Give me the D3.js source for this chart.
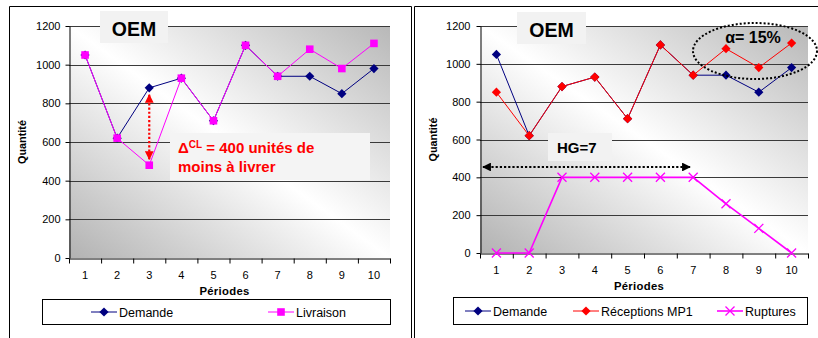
<!DOCTYPE html>
<html><head><meta charset="utf-8">
<script src="https://cdn.jsdelivr.net/npm/d3@7"></script>
<style>
html,body{margin:0;padding:0;background:#fff;}
svg{display:block;font-family:"Liberation Sans",Arial,sans-serif;}
</style></head>
<body>
<svg id="chart" width="818" height="338"></svg>
<script>
// ---- data ----
const periodes = [1, 2, 3, 4, 5, 6, 7, 8, 9, 10];
const yTicks = [0, 200, 400, 600, 800, 1000, 1200];
const demande = [1050, 620, 880, 930, 710, 1100, 940, 940, 850, 980];
const livraison = [1050, 620, 480, 930, 710, 1100, 940, 1080, 980, 1110];
const receptionsMP1 = [850, 620, 880, 930, 710, 1100, 940, 1080, 980, 1110];
const ruptures = [0, 0, 400, 400, 400, 400, 400, 260, 130, 0];
const titleText = "OEM";
const xTitle = "Périodes";
const yTitle = "Quantité";

const svg = d3.select("#chart");
const defs = svg.append("defs");

// background gradient
const grad = defs.append("linearGradient").attr("id", "bg")
  .attr("x1", 0).attr("y1", 1).attr("x2", 1).attr("y2", 0);
grad.append("stop").attr("offset", "0%").attr("stop-color", "#b2b2b2");
grad.append("stop").attr("offset", "50%").attr("stop-color", "#ffffff");
grad.append("stop").attr("offset", "100%").attr("stop-color", "#b8b8b8");

function arrowMarker(id, color, orient) {
  defs.append("marker").attr("id", id)
    .attr("viewBox", "0 0 10 10").attr("refX", 9).attr("refY", 5)
    .attr("markerWidth", 4).attr("markerHeight", 4)
    .attr("markerUnits", "strokeWidth")
    .attr("orient", orient)
    .append("path").attr("d", "M0,0 L10,5 L0,10 Z").attr("fill", color);
}
arrowMarker("arrRed", "#ff0000", "auto-start-reverse");
arrowMarker("arrBlack", "#000000", "auto-start-reverse");

// panel frames
svg.append("path").attr("d", "M9.5,340 V6.5 H411.5 V340").attr("fill", "none").attr("stroke", "#000").attr("stroke-width", 1);
svg.append("path").attr("d", "M414.5,340 V6.5 H830").attr("fill", "none").attr("stroke", "#000").attr("stroke-width", 1);

const diamondPath = r => `M0,${-r}L${r},0L0,${r}L${-r},0Z`;
const squarePath = r => `M${-r},${-r}H${r}V${r}H${-r}Z`;
const crossPath = r => `M${-r},${-r}L${r},${r}M${-r},${r}L${r},${-r}`;

function drawMarker(g, type, color) {
  if (type === "diamond") g.append("path").attr("d", diamondPath(4.6)).attr("fill", color);
  else if (type === "square") g.append("path").attr("d", squarePath(3.8)).attr("fill", color);
  else if (type === "cross") g.append("path").attr("d", crossPath(4.5)).attr("fill", "none").attr("stroke", color).attr("stroke-width", 1.3);
}

function drawPanel(cfg) {
  const x = d3.scaleBand().domain(periodes).range([cfg.left, cfg.right]).padding(0);
  const xl = d3.scaleLinear().domain([0, periodes.length]).range([cfg.left, cfg.right]);
  const y = d3.scaleLinear().domain([0, 1200]).range([cfg.bottom, cfg.top]);
  const g = svg.append("g");

  g.append("rect").attr("x", cfg.left).attr("y", cfg.top)
    .attr("width", cfg.right - cfg.left).attr("height", cfg.bottom - cfg.top)
    .attr("fill", "url(#bg)");

  // gridlines
  g.append("g").selectAll("line").data(yTicks.filter(t => t > 0)).join("line")
    .attr("x1", cfg.left).attr("x2", cfg.right)
    .attr("y1", d => Math.round(y(d)) + 0.5).attr("y2", d => Math.round(y(d)) + 0.5)
    .attr("stroke", "#3a3a3a").attr("stroke-width", 1);

  // y axis
  const ya = g.append("g").attr("transform", `translate(${cfg.left + 0.5},0)`)
    .call(d3.axisLeft(y).tickValues(yTicks).tickFormat(d3.format("d")).tickSize(4).tickPadding(cfg.yPad).tickSizeOuter(0));
  ya.select(".domain").attr("stroke", "#000");
  ya.selectAll("text").attr("font-size", 11).attr("fill", "#000")
    .attr("font-family", "'Liberation Sans',Arial,sans-serif");

  // x axis tick marks
  const xa = g.append("g").attr("transform", `translate(0,${Math.round(cfg.bottom) + 0.5})`)
    .call(d3.axisBottom(xl).tickValues(d3.range(0, periodes.length + 1)).tickFormat("").tickSize(5).tickSizeOuter(0));
  xa.select(".domain").attr("stroke", "#000");
  // x labels
  const xb = g.append("g").attr("transform", `translate(0,${cfg.bottom})`)
    .call(d3.axisBottom(x).tickSize(0).tickPadding(13));
  xb.select(".domain").remove();
  xb.selectAll("text").attr("font-size", 11).attr("fill", "#000")
    .attr("font-family", "'Liberation Sans',Arial,sans-serif");

  // axis titles
  g.append("text").attr("x", (cfg.left + cfg.right) / 2 - 5).attr("y", cfg.bottom + 37)
    .attr("text-anchor", "middle").attr("font-weight", "bold").attr("font-size", 11.3)
    .attr("letter-spacing", 0.3).text(xTitle);
  g.append("text").attr("transform", `translate(${cfg.yTitleX},${(cfg.top + cfg.bottom) / 2}) rotate(-90)`)
    .attr("text-anchor", "middle").attr("font-weight", "bold").attr("font-size", 10.8).text(yTitle);

  // series
  cfg.series.forEach(s => {
    const line = d3.line().x((d, i) => x(periodes[i]) + x.bandwidth() / 2).y(d => y(d));
    g.append("path").datum(s.values).attr("d", line)
      .attr("fill", "none").attr("stroke", s.color).attr("stroke-width", s.width);
    s.values.forEach((v, i) => {
      const m = g.append("g").attr("transform", `translate(${x(periodes[i]) + x.bandwidth() / 2},${y(v)})`);
      drawMarker(m, s.marker, s.color);
    });
  });

  // title box
  g.append("rect").attr("x", cfg.titleBox[0]).attr("y", cfg.titleBox[1])
    .attr("width", cfg.titleBox[2]).attr("height", cfg.titleBox[3]).attr("fill", "#f2f2f2");
  g.append("text").attr("x", cfg.titleBox[0] + cfg.titleBox[2] / 2).attr("y", cfg.titleBox[1] + 24.5)
    .attr("text-anchor", "middle").attr("font-weight", "bold").attr("font-size", 19.5).text(titleText);

  // legend
  const lg = g.append("g");
  lg.append("rect").attr("x", cfg.legend.x + 0.5).attr("y", cfg.legend.y + 0.5)
    .attr("width", cfg.legend.w).attr("height", cfg.legend.h)
    .attr("fill", "#fff").attr("stroke", "#000").attr("stroke-width", 1);
  cfg.series.forEach((s, i) => {
    const lx = cfg.legend.items[i];
    const ly = cfg.legend.y + cfg.legend.h / 2 + 0.5;
    lg.append("line").attr("x1", lx).attr("x2", lx + 26).attr("y1", ly).attr("y2", ly)
      .attr("stroke", s.color).attr("stroke-width", s.width);
    const m = lg.append("g").attr("transform", `translate(${lx + 13},${ly})`);
    drawMarker(m, s.marker, s.color);
    lg.append("text").attr("x", lx + 28).attr("y", ly + 4.5).attr("font-size", 12.5).text(s.name);
  });

  return { x, y, g };
}

// ---- left panel ----
const L = drawPanel({
  left: 69, right: 390, top: 26, bottom: 258, yPad: 5, yTitleX: 26,
  titleBox: [100, 11, 68, 32],
  legend: { x: 42, y: 299, w: 348, h: 25, items: [91, 268] },
  series: [
    { name: "Demande", values: demande, color: "#000080", marker: "diamond", width: 1 },
    { name: "Livraison", values: livraison, color: "#ff00ff", marker: "square", width: 1 }
  ]
});
{
  const cx = L.x(periodes[2]) + L.x.bandwidth() / 2;
  L.g.append("line").attr("x1", cx).attr("x2", cx)
    .attr("y1", L.y(demande[2]) + 7).attr("y2", L.y(livraison[2]) - 6)
    .attr("stroke", "#ff0000").attr("stroke-width", 2.2).attr("stroke-dasharray", "2.2,2")
    .attr("marker-start", "url(#arrRed)").attr("marker-end", "url(#arrRed)");
  L.g.append("rect").attr("x", 170).attr("y", 133).attr("width", 200).attr("height", 47).attr("fill", "#f4f4f4");
  const t1 = L.g.append("text").attr("x", 178).attr("y", 153).attr("fill", "#ff0000")
    .attr("font-weight", "bold").attr("font-size", 15);
  t1.append("tspan").text("Δ");
  t1.append("tspan").attr("font-size", 10).attr("dy", -5).text("CL");
  t1.append("tspan").attr("dy", 5).text(" = 400 unités de");
  L.g.append("text").attr("x", 178).attr("y", 172).attr("fill", "#ff0000")
    .attr("font-weight", "bold").attr("font-size", 15).text("moins à livrer");
}

// ---- right panel ----
const R = drawPanel({
  left: 480, right: 808, top: 26, bottom: 253, yPad: 6, yTitleX: 437,
  titleBox: [517, 12, 69, 32],
  legend: { x: 453, y: 297, w: 354, h: 27, items: [465, 573, 717] },
  series: [
    { name: "Demande", values: demande, color: "#000080", marker: "diamond", width: 1 },
    { name: "Réceptions MP1", values: receptionsMP1, color: "#ff0000", marker: "diamond", width: 1 },
    { name: "Ruptures", values: ruptures, color: "#ff00ff", marker: "cross", width: 1.6 }
  ]
});
{
  R.g.append("ellipse").attr("cx", 755).attr("cy", 51).attr("rx", 62).attr("ry", 28)
    .attr("fill", "none").attr("stroke", "#000").attr("stroke-width", 2).attr("stroke-dasharray", "2,2");
  R.g.append("text").attr("x", 753).attr("y", 43).attr("text-anchor", "middle")
    .attr("font-weight", "bold").attr("font-size", 16).text("α= 15%");
  R.g.append("rect").attr("x", 548).attr("y", 133).attr("width", 64).attr("height", 28).attr("fill", "#f2f2f2");
  R.g.append("text").attr("x", 557).attr("y", 153).attr("font-weight", "bold").attr("font-size", 15).text("HG=7");
  R.g.append("line").attr("x1", 483).attr("x2", 690).attr("y1", 167).attr("y2", 167)
    .attr("stroke", "#000").attr("stroke-width", 2.2).attr("stroke-dasharray", "2.2,2")
    .attr("marker-start", "url(#arrBlack)").attr("marker-end", "url(#arrBlack)");
}
</script>
</body></html>
